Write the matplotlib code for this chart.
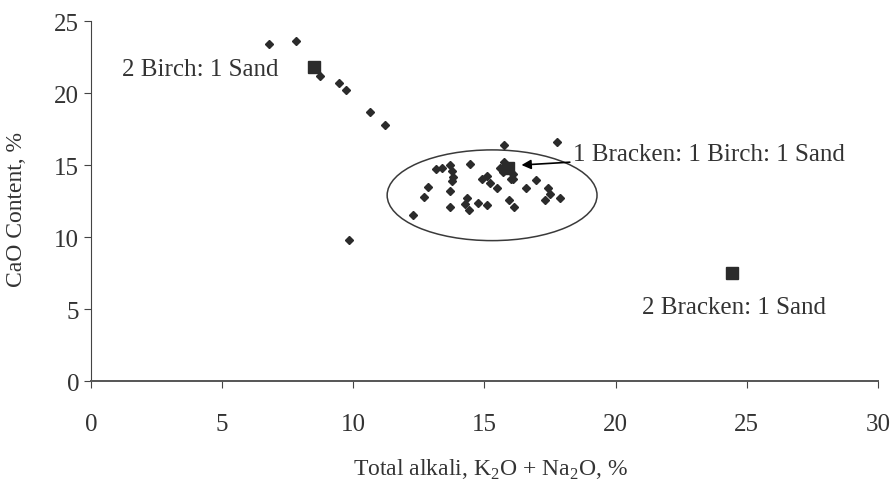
import matplotlib
matplotlib.use("Agg")
import matplotlib.pyplot as plt
from matplotlib.patches import Ellipse

plt.rcParams["font.family"] = ["Liberation Serif", "DejaVu Serif"]
plt.rcParams["mathtext.fontset"] = "custom"
plt.rcParams["mathtext.rm"] = "Liberation Serif"

# Individual ash samples: total alkali (%) vs CaO (%)
alkali = [6.79, 7.82, 8.74, 9.47, 9.73, 10.65, 11.22, 9.85,
          15.76, 17.77, 13.17, 13.39, 13.70, 13.77, 13.80, 13.77, 14.43,
          15.60, 15.75, 16.10, 16.00, 15.70, 14.92, 15.10, 15.20, 15.46,
          16.10, 16.95, 16.57, 17.44, 17.50, 17.29, 17.86, 12.85, 12.71,
          13.68, 13.70, 14.34, 14.27, 14.40, 14.75, 15.08, 15.93, 16.12, 12.26]
cao = [23.4, 23.6, 21.2, 20.7, 20.2, 18.7, 17.8, 9.8,
       16.4, 16.6, 14.7, 14.8, 15.0, 14.6, 14.2, 13.9, 15.1,
       14.8, 15.2, 14.4, 14.0, 14.5, 14.0, 14.25, 13.75, 13.4,
       14.0, 13.96, 13.4, 13.4, 13.0, 12.6, 12.7, 13.45, 12.8,
       13.2, 12.1, 12.7, 12.3, 11.9, 12.36, 12.2, 12.6, 12.05, 11.5]

# Fuel blends
blend_names = ["2 Birch: 1 Sand", "1 Bracken: 1 Birch: 1 Sand", "2 Bracken: 1 Sand"]
blend_alkali = [8.51, 15.9, 24.43]
blend_cao = [21.8, 14.8, 7.48]

xticks = [0, 5, 10, 15, 20, 25, 30]
yticks = [0, 5, 10, 15, 20, 25]

fig = plt.figure(figsize=(8.91, 4.81), dpi=100)
ax = fig.add_axes([0.1021, 0.2058, 0.8833, 0.7484])

ax.plot(alkali, cao, ls="none", marker="D", ms=3.8, color="#2b2b2b")
ax.plot(blend_alkali, blend_cao, ls="none", marker="s", ms=9, color="#2b2b2b")

# main cluster outline
ax.add_patch(Ellipse((15.29, 12.9), 8.0, 6.3, fill=False,
                     ec="#3a3a3a", lw=1.1))

txt = dict(fontsize=18, color="#333333", va="center")
ax.text(1.18, 21.67, blend_names[0], ha="left", **txt)
ax.annotate(blend_names[1], xy=(16.41, 15.0), xytext=(18.36, 15.76),
            ha="left", va="center", fontsize=18, color="#333333",
            arrowprops=dict(arrowstyle="-|>", color="black", lw=1.2,
                            shrinkA=0, shrinkB=0, mutation_scale=14))
ax.text(21.0, 5.14, blend_names[2], ha="left", **txt)

ax.set_xlim(0, 30)
ax.set_ylim(0, 25)
ax.set_xticks(xticks)
ax.set_yticks(yticks)
ax.tick_params(labelsize=18, labelcolor="#333333", length=5, width=0.8,
               colors="#444444")
ax.tick_params(axis="x", pad=18)
for s in ("top", "right"):
    ax.spines[s].set_visible(False)
ax.spines["left"].set_color("#444444")
ax.spines["bottom"].set_color("#555555")
ax.spines["bottom"].set_linewidth(1.4)

ax.set_xlabel("Total alkali, K$_2$O + Na$_2$O, %", fontsize=17,
              color="#333333", va="center")
ax.set_ylabel("CaO Content, %", fontsize=17, color="#333333", va="center")
ax.xaxis.set_label_coords(0.507, -0.244)
ax.yaxis.set_label_coords(-0.094, 0.478)

fig.savefig("out.png", dpi=100, facecolor="white")
